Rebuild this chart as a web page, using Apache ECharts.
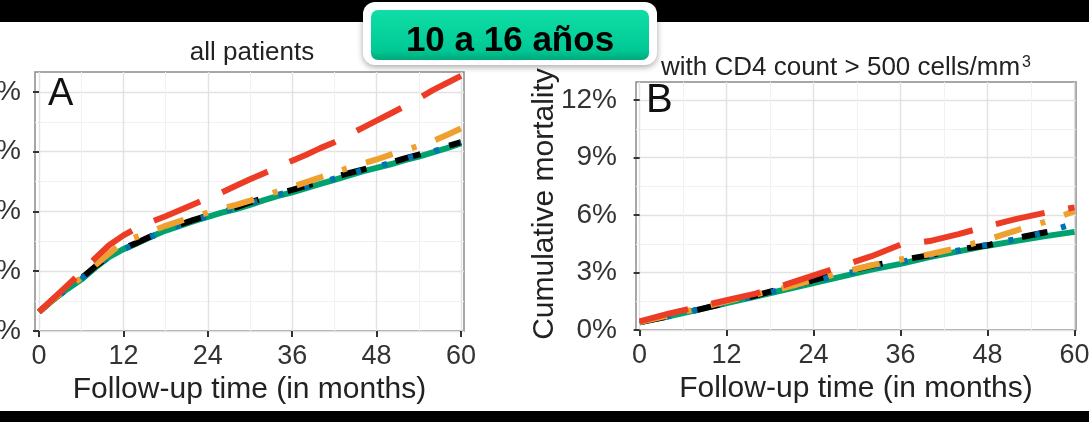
<!DOCTYPE html>
<html><head><meta charset="utf-8">
<script src="https://cdn.jsdelivr.net/npm/echarts@6/dist/echarts.min.js"></script>
<style>html,body{margin:0;padding:0;background:#fff}#c{width:1089px;height:422px}</style>
</head><body><div id="c"></div>
<script>
// ---- data (cumulative mortality, %) ----
const monthsL = [0,2,4,6,8,10,12,14,16,18,20,22,24,26,28,30,32,34,36,38,40,42,44,46,48,50,52,54,56,58,60];
const redL    = [1.6,2.7,3.8,4.9,6.1,7.2,8.0,8.65,9.15,9.6,10.1,10.6,11.1,11.6,12.15,12.7,13.2,13.75,14.25,14.75,15.3,15.8,16.4,17.0,17.6,18.2,18.8,19.45,20.15,20.75,21.35];
const orangeL = [1.6,2.65,3.6,4.45,5.5,6.5,7.45,7.9,8.35,8.8,9.2,9.55,9.9,10.25,10.55,10.9,11.3,11.7,12.05,12.45,12.85,13.25,13.65,14.0,14.35,14.75,15.1,15.5,15.9,16.4,16.95];
const blackL  = [1.6,2.65,3.55,4.4,5.4,6.3,6.9,7.4,7.95,8.45,8.9,9.3,9.65,10.0,10.35,10.75,11.15,11.5,11.8,12.15,12.5,12.85,13.2,13.5,13.8,14.1,14.45,14.75,15.1,15.45,15.8];
const blueL   = [1.6,2.6,3.5,4.35,5.35,6.25,6.85,7.35,7.9,8.4,8.85,9.25,9.6,9.95,10.3,10.65,11.05,11.4,11.7,12.05,12.4,12.75,13.1,13.45,13.75,14.05,14.4,14.7,15.0,15.4,15.75];
const greenL  = [1.6,2.6,3.5,4.3,5.3,6.2,6.85,7.35,7.9,8.4,8.8,9.2,9.55,9.9,10.2,10.55,10.95,11.3,11.6,11.95,12.3,12.65,13.0,13.35,13.65,13.95,14.3,14.6,14.95,15.3,15.7];

const monthsR = [0,4,8,12,16,20,24,28,32,36,40,44,48,52,56,60];
const redR    = [0.45,0.85,1.2,1.55,1.9,2.35,2.85,3.35,3.85,4.45,4.64,5.0,5.42,5.8,6.12,6.4];
const orangeR = [0.42,0.76,1.12,1.5,1.85,2.2,2.6,3.02,3.38,3.68,3.95,4.3,4.72,5.2,5.65,6.2];
const blackR  = [0.4,0.72,1.05,1.42,1.8,2.2,2.6,3.0,3.35,3.65,3.9,4.2,4.42,4.8,5.1,5.37];
const blueR   = [0.4,0.72,1.06,1.42,1.78,2.15,2.55,2.9,3.25,3.55,3.85,4.15,4.45,4.75,5.1,5.55];
const greenR  = [0.42,0.72,1.05,1.4,1.75,2.1,2.45,2.8,3.15,3.45,3.8,4.1,4.4,4.65,4.9,5.12];

const xTicks  = [0,12,24,36,48,60];
const xMinor  = [6,18,30,42,54];
const yTicksL = [0,5,10,15,20];
const yMinorL = [2.5,7.5,12.5,17.5];
const yTicksR = [0,3,6,9,12];
const yMinorR = [1.5,4.5,7.5,10.5];

const titleL = 'all patients';
const titleR = 'with CD4 count > 500 cells/mm';
const xName = 'Follow-up time (in months)';
const yName = 'Cumulative mortality';
const badge = '10 a 16 años';

// ---- styling ----
const FONT = 'Liberation Sans, Arial, sans-serif';
// use a narrow face for x tick labels when it is installed
const cv = document.createElement('canvas').getContext('2d');
cv.font = '30px "Liberation Sans Narrow", monospace'; const wN = cv.measureText('0123456789').width;
cv.font = '30px monospace'; const wM = cv.measureText('0123456789').width;
const hasNarrow = Math.abs(wN - wM) > 0.5;
const XLFONT = hasNarrow ? '"Liberation Sans Narrow"' : FONT;
const XLSIZE = hasNarrow ? 30 : 27;

const styles = {
  red:    {color:'#EC3C26', type:[50,24]},
  orange: {color:'#EFA02E', type:[28,20,5,20]},
  black:  {color:'#000000', type:[26,30]},
  blue:   {color:'#0072B2', type:[5,22]},
  green:  {color:'#00A36F', type:'solid'}
};

function pairs(ms, vs){ return ms.map((m,i)=>[m, vs[i]]); }

function mainX(gi, min, max){
  return {type:'value', gridIndex:gi, min, max, position:'bottom',
    axisLine:{show:false},
    axisTick:{show:true, customValues:xTicks, length:6, lineStyle:{color:'#333', width:2}},
    axisLabel:{show:true, customValues:xTicks, margin:12, fontSize:XLSIZE, color:'#333', fontFamily:XLFONT},
    splitLine:{show:true, customValues:xTicks, lineStyle:{color:'#e2e2e2', width:1.4}},
    name:xName, nameLocation:'middle', nameGap:43,
    nameTextStyle:{fontSize:30, color:'#222', fontFamily:FONT}
  };
}
function minorX(gi, min, max){
  return {type:'value', gridIndex:gi, min, max, position:'top',
    axisLine:{show:false}, axisLabel:{show:false},
    axisTick:{show:false, customValues:xMinor},
    splitLine:{show:true, customValues:xMinor, lineStyle:{color:'#f1f1f1', width:1}}
  };
}
function mainY(gi, max, ticks, margin){
  return {type:'value', gridIndex:gi, min:0, max, position:'left',
    axisLine:{show:false},
    axisTick:{show:true, customValues:ticks, length:6, lineStyle:{color:'#333', width:2}},
    axisLabel:{show:true, customValues:ticks, margin, fontSize:28, color:'#333', fontFamily:FONT,
      formatter:v=>v+'%'},
    splitLine:{show:true, customValues:ticks, lineStyle:{color:'#e2e2e2', width:1.4}}
  };
}
function minorY(gi, max, ticks){
  return {type:'value', gridIndex:gi, min:0, max, position:'right',
    axisLine:{show:false}, axisLabel:{show:false},
    axisTick:{show:false, customValues:ticks},
    splitLine:{show:true, customValues:ticks, lineStyle:{color:'#f1f1f1', width:1}}
  };
}
function line(name, xi, data, z){
  const s = styles[name];
  return {type:'line', name, xAxisIndex:xi, yAxisIndex:xi, data, symbol:'none', showSymbol:false,
    silent:true, z, lineStyle:{color:s.color, width:6, type:s.type, cap:'butt', join:'round'}};
}

const chart = echarts.init(document.getElementById('c'), null, {renderer:'canvas'});
chart.setOption({
  animation:false,
  backgroundColor:'#ffffff',
  grid:[
    {left:35, top:72, width:429, height:259, show:true, backgroundColor:'#fff', borderColor:'#8a8a8a', borderWidth:1.5, containLabel:false, outerBoundsMode:'none'},
    {left:636, top:82, width:440, height:248, show:true, backgroundColor:'#fff', borderColor:'#8a8a8a', borderWidth:1.5, containLabel:false, outerBoundsMode:'none'}
  ],
  xAxis:[ mainX(0,-0.57,60.43), mainX(1,-0.5,60.2), minorX(0,-0.57,60.43), minorX(1,-0.5,60.2) ],
  yAxis:[ mainY(0,21.67,yTicksL,14), mainY(1,12.94,yTicksR,19), minorY(0,21.67,yMinorL), minorY(1,12.94,yMinorR) ],
  series:[
    line('green',0,pairs(monthsL,greenL),2),
    line('black',0,pairs(monthsL,blackL),3),
    line('blue',0,pairs(monthsL,blueL),4),
    line('orange',0,pairs(monthsL,orangeL),5),
    line('red',0,pairs(monthsL,redL),6),
    line('green',1,pairs(monthsR,greenR),2),
    line('black',1,pairs(monthsR,blackR),3),
    line('blue',1,pairs(monthsR,blueR),4),
    line('orange',1,pairs(monthsR,orangeR),5),
    line('red',1,pairs(monthsR,redR),6)
  ],
  graphic:[
    {type:'rect', z:100, shape:{x:0,y:0,width:1089,height:22}, style:{fill:'#000'}},
    {type:'rect', z:100, shape:{x:0,y:411,width:1089,height:11}, style:{fill:'#000'}},
    {type:'text', z:50, style:{x:252, y:53, text:titleL, font:'26px '+FONT, fill:'#222', textAlign:'center', textVerticalAlign:'middle'}},
    {type:'text', z:50, style:{x:661, y:68, text:'{a|'+titleR+'}{s|3}', font:'26px '+FONT, fill:'#222', textAlign:'left', textVerticalAlign:'middle',
      rich:{a:{fontSize:26, fontFamily:FONT, fill:'#222'}, s:{fontSize:16, fontFamily:FONT, fill:'#222', verticalAlign:'top', padding:[0,0,0,2]}}}},
    {type:'text', z:50, style:{x:48, y:95, text:'A', font:'38px '+FONT, fill:'#111', textAlign:'left', textVerticalAlign:'middle'}},
    {type:'text', z:50, style:{x:646, y:101, text:'B', font:'40px '+FONT, fill:'#111', textAlign:'left', textVerticalAlign:'middle'}},
    {type:'text', z:50, rotation:Math.PI/2, x:545, y:204, style:{x:0, y:0, text:yName, font:'30px '+FONT, fill:'#222', textAlign:'center', textVerticalAlign:'middle'}},
    {type:'rect', z:110, shape:{x:363,y:2,width:294,height:63,r:12}, style:{fill:'#fff', shadowBlur:6, shadowColor:'rgba(0,0,0,0.35)', shadowOffsetY:2}},
    {type:'rect', z:111, shape:{x:371,y:10,width:278,height:50,r:7}, style:{fill:new echarts.graphic.LinearGradient(0,0,0,1,[
      {offset:0,color:'#10DEA6'},{offset:0.8,color:'#00C995'},{offset:1,color:'#00A97B'}])}},
    {type:'text', z:112, style:{x:510, y:41, text:badge, font:'bold 35px '+FONT, fill:'#000', textAlign:'center', textVerticalAlign:'middle'}}
  ]
});
</script></body></html>
